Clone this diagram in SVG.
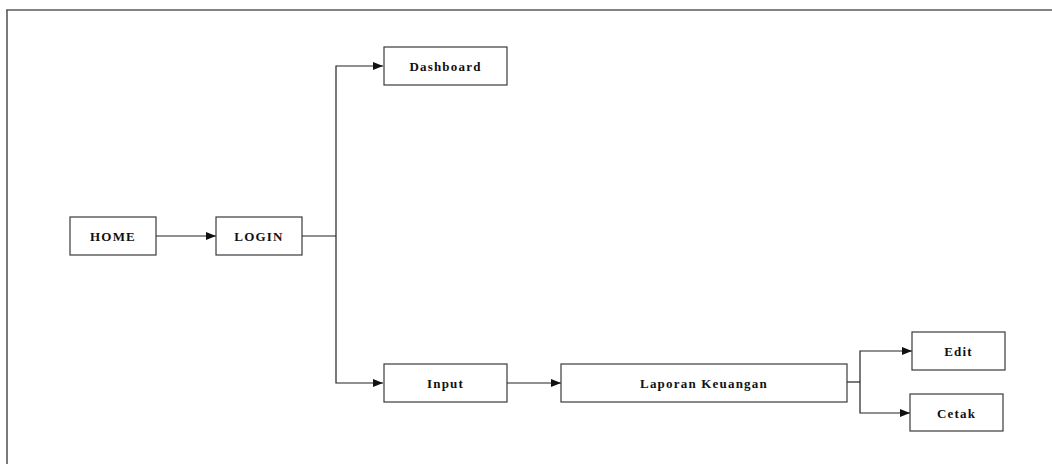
<svg xmlns="http://www.w3.org/2000/svg" width="1052" height="464" viewBox="0 0 1052 464">
<style>
.box{fill:#fff;stroke:#3a3a3a;stroke-width:1.2}
.lbl{font-family:"Liberation Serif",serif;font-weight:bold;font-size:13px;letter-spacing:1.2px;fill:#111;text-anchor:middle}
.ln{fill:none;stroke:#222;stroke-width:1.2}
</style>
<defs>
<marker id="ah" viewBox="0 0 10 8" refX="10" refY="4" markerWidth="10" markerHeight="8" markerUnits="userSpaceOnUse" orient="auto">
<path d="M0,0 L10,4 L0,8 Z" fill="#111"/>
</marker>
</defs>
<rect width="1052" height="464" fill="#fff"/>
<g id="frame">
<line x1="6" y1="10" x2="1052" y2="10" stroke="#5a5a5a" stroke-width="1.6"/>
<line x1="7" y1="10" x2="7" y2="464" stroke="#5a5a5a" stroke-width="1.6"/>
</g>
<g id="connectors">
<line class="ln" x1="156" y1="236" x2="216" y2="236" marker-end="url(#ah)"/>
<polyline class="ln" points="302,236 336,236"/>
<polyline class="ln" points="336,236 336,66 383,66" marker-end="url(#ah)"/>
<polyline class="ln" points="336,236 336,383 383,383" marker-end="url(#ah)"/>
<line class="ln" x1="507" y1="383" x2="561" y2="383" marker-end="url(#ah)"/>
<polyline class="ln" points="847,382 860,382"/>
<polyline class="ln" points="860,382 860,351 912,351" marker-end="url(#ah)"/>
<polyline class="ln" points="860,382 860,413 910,413" marker-end="url(#ah)"/>
</g>
<g id="home"><rect class="box" x="70" y="217" width="86" height="38"/><text class="lbl" x="113" y="241">HOME</text></g>
<g id="login"><rect class="box" x="216" y="217" width="86" height="38"/><text class="lbl" x="259" y="241">LOGIN</text></g>
<g id="dashboard"><rect class="box" x="384" y="47" width="123" height="38"/><text class="lbl" x="445.5" y="71">Dashboard</text></g>
<g id="input"><rect class="box" x="384" y="364" width="123" height="38"/><text class="lbl" x="445.5" y="388">Input</text></g>
<g id="laporan"><rect class="box" x="561" y="364" width="286" height="38"/><text class="lbl" x="704" y="388">Laporan Keuangan</text></g>
<g id="edit"><rect class="box" x="912" y="332" width="93" height="38"/><text class="lbl" x="958.5" y="356">Edit</text></g>
<g id="cetak"><rect class="box" x="910" y="394" width="93" height="37"/><text class="lbl" x="956.5" y="418">Cetak</text></g>
</svg>
